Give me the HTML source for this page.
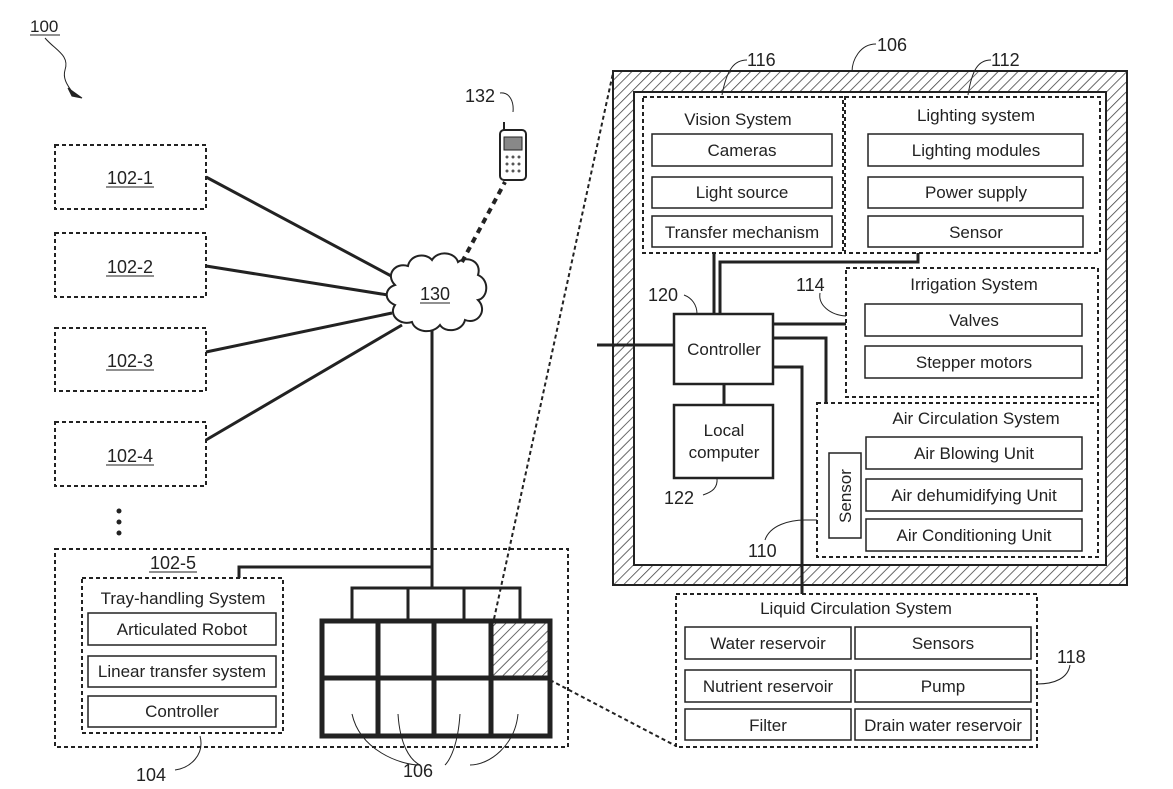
<!DOCTYPE html>
<html><head><meta charset="utf-8"><style>
html,body{margin:0;padding:0;background:#fff;}
svg{display:block;}
text{font-family:"Liberation Sans",sans-serif;fill:#222;}
</style></head><body>
<svg width="1173" height="789" viewBox="0 0 1173 789" xmlns="http://www.w3.org/2000/svg">
<defs>
<pattern id="h" patternUnits="userSpaceOnUse" width="7" height="7" patternTransform="rotate(45)">
<rect width="7" height="7" fill="#fff"/><line x1="0" y1="0" x2="0" y2="7" stroke="#444" stroke-width="1.6"/>
</pattern>
</defs>
<g fill="none" stroke="#222">
<text x="30" y="32" font-size="17" stroke="none">100</text>
<line x1="30" y1="35" x2="60" y2="35" stroke-width="1"/>
<path d="M45 38 C55 50 70 55 65 70 C62 80 70 88 72 92" stroke-width="1"/>
<path d="M68 88 L82 98 L72 96 Z" fill="#222"/>

<g stroke-width="2" stroke-dasharray="4,3">
<rect x="55" y="145" width="151" height="64"/>
<rect x="55" y="233" width="151" height="64"/>
<rect x="55" y="328" width="151" height="63"/>
<rect x="55" y="422" width="151" height="64"/>
<rect x="55" y="549" width="513" height="198"/>
<rect x="82" y="578" width="201" height="155"/>
</g>
<g font-size="18" stroke="none" text-anchor="middle">
<text x="130" y="184">102-1</text><text x="130" y="273">102-2</text>
<text x="130" y="367">102-3</text><text x="130" y="462">102-4</text>
<text x="173" y="569">102-5</text>
</g>
<g stroke-width="1"><line x1="106" y1="187" x2="154" y2="187"/><line x1="106" y1="276" x2="154" y2="276"/><line x1="106" y1="370" x2="154" y2="370"/><line x1="106" y1="465" x2="154" y2="465"/><line x1="149" y1="572" x2="197" y2="572"/></g>
<g fill="#222" stroke="none"><circle cx="119" cy="511" r="2.5"/><circle cx="119" cy="522" r="2.5"/><circle cx="119" cy="533" r="2.5"/></g>

<g stroke-width="3">
<line x1="206" y1="177" x2="395" y2="278"/>
<line x1="206" y1="266" x2="388" y2="295"/>
<line x1="206" y1="352" x2="392" y2="313"/>
<line x1="206" y1="440" x2="402" y2="325"/>
<line x1="432" y1="328" x2="432" y2="588"/>
<polyline points="432,567 239,567 239,578"/>
<polyline points="352,619 352,588 520,588 520,619"/>
<line x1="408" y1="588" x2="408" y2="619"/><line x1="464" y1="588" x2="464" y2="619"/>
</g>
<path d="M395 285 C385 275 395 262 408 266 C410 255 425 252 432 260 C438 250 455 252 458 262 C468 255 482 262 478 275 C490 280 488 298 478 300 C488 310 478 325 465 320 C462 332 445 333 440 325 C432 335 415 332 412 322 C400 326 388 315 395 305 C383 300 385 288 395 285 Z" fill="#fff" stroke-width="2"/>
<text x="435" y="300" font-size="18" stroke="none" text-anchor="middle">130</text>
<line x1="420" y1="303" x2="450" y2="303" stroke-width="1"/>
<line x1="462" y1="262" x2="505" y2="182" stroke-width="4" stroke-dasharray="6,5"/>
<rect x="500" y="130" width="26" height="50" rx="4" stroke-width="2"/>
<rect x="504" y="137" width="18" height="13" fill="#888" stroke-width="1"/>
<g fill="#555" stroke="none"><circle cx="507" cy="157" r="1.5"/><circle cx="513" cy="157" r="1.5"/><circle cx="519" cy="157" r="1.5"/><circle cx="507" cy="164" r="1.5"/><circle cx="513" cy="164" r="1.5"/><circle cx="519" cy="164" r="1.5"/><circle cx="507" cy="171" r="1.5"/><circle cx="513" cy="171" r="1.5"/><circle cx="519" cy="171" r="1.5"/></g>
<line x1="504" y1="130" x2="504" y2="122" stroke-width="2"/>
<text x="465" y="102" font-size="18" stroke="none">132</text>
<path d="M500 93 C510 92 514 102 513 112" stroke-width="1"/>

<text x="183" y="604" font-size="17" stroke="none" text-anchor="middle">Tray-handling System</text>
<g stroke-width="1.5"><rect x="88" y="613" width="188" height="32"/><rect x="88" y="656" width="188" height="31"/><rect x="88" y="696" width="188" height="31"/></g>
<g font-size="17" stroke="none" text-anchor="middle"><text x="182" y="635">Articulated Robot</text><text x="182" y="677">Linear transfer system</text><text x="182" y="717">Controller</text></g>
<path d="M200 736 C205 755 190 768 175 770" stroke-width="1"/>
<text x="136" y="781" font-size="18" stroke="none">104</text>

<rect x="492" y="621" width="58" height="56" fill="url(#h)" stroke="none"/>
<g stroke-width="5">
<rect x="322" y="621" width="228" height="115"/>
<line x1="378" y1="621" x2="378" y2="736"/><line x1="434" y1="621" x2="434" y2="736"/><line x1="491" y1="621" x2="491" y2="736"/>
<line x1="322" y1="678" x2="550" y2="678"/>
</g>
<g stroke-width="1"><path d="M352 714 C360 750 400 765 420 765"/><path d="M398 714 C400 745 410 760 420 765"/><path d="M460 714 C458 745 450 760 445 765"/><path d="M518 714 C515 745 490 765 470 765"/></g>
<text x="403" y="777" font-size="18" stroke="none">106</text>

<g stroke-width="2" stroke-dasharray="4,3"><line x1="494" y1="619" x2="613" y2="73"/><line x1="550" y1="680" x2="676" y2="746"/></g>

<rect x="613" y="71" width="514" height="514" fill="url(#h)" stroke-width="2"/>
<rect x="634" y="92" width="472" height="473" fill="#fff" stroke-width="2"/>

<g stroke-width="2" stroke-dasharray="4,3">
<rect x="643" y="97" width="200" height="156"/>
<rect x="845" y="97" width="255" height="156"/>
<rect x="846" y="268" width="252" height="129"/>
<rect x="817" y="403" width="281" height="154"/>
<rect x="676" y="594" width="361" height="153"/>
</g>
<g stroke-width="1.5">
<rect x="652" y="134" width="180" height="32"/><rect x="652" y="177" width="180" height="31"/><rect x="652" y="216" width="180" height="31"/>
<rect x="868" y="134" width="215" height="32"/><rect x="868" y="177" width="215" height="31"/><rect x="868" y="216" width="215" height="31"/>
<rect x="865" y="304" width="217" height="32"/><rect x="865" y="346" width="217" height="32"/>
<rect x="866" y="437" width="216" height="32"/><rect x="866" y="479" width="216" height="32"/><rect x="866" y="519" width="216" height="32"/>
<rect x="829" y="453" width="32" height="85"/>
<rect x="685" y="627" width="166" height="32"/><rect x="685" y="670" width="166" height="32"/><rect x="685" y="709" width="166" height="31"/>
<rect x="855" y="627" width="176" height="32"/><rect x="855" y="670" width="176" height="32"/><rect x="855" y="709" width="176" height="31"/>
</g>
<g stroke-width="2.5"><rect x="674" y="314" width="99" height="70"/><rect x="674" y="405" width="99" height="73"/></g>
<g stroke-width="3">
<line x1="714" y1="253" x2="714" y2="314"/>
<polyline points="720,314 720,262 918,262 918,253"/>
<line x1="773" y1="324" x2="846" y2="324"/>
<polyline points="773,338 826,338 826,403"/>
<polyline points="773,367 802,367 802,594"/>
<line x1="597" y1="345" x2="674" y2="345"/>
<line x1="724" y1="384" x2="724" y2="405"/>
</g>
<g font-size="17" stroke="none" text-anchor="middle">
<text x="738" y="125">Vision System</text><text x="976" y="121">Lighting system</text>
<text x="742" y="156">Cameras</text><text x="742" y="198">Light source</text><text x="742" y="238">Transfer mechanism</text>
<text x="976" y="156">Lighting modules</text><text x="976" y="198">Power supply</text><text x="976" y="238">Sensor</text>
<text x="974" y="290">Irrigation System</text>
<text x="974" y="326">Valves</text><text x="974" y="368">Stepper motors</text>
<text x="976" y="424">Air Circulation System</text>
<text x="974" y="459">Air Blowing Unit</text><text x="974" y="501">Air dehumidifying Unit</text><text x="974" y="541">Air Conditioning Unit</text>
<text x="724" y="355">Controller</text>
<text x="724" y="436">Local</text><text x="724" y="458">computer</text>
<text x="856" y="614">Liquid Circulation System</text>
<text x="768" y="649">Water reservoir</text><text x="943" y="649">Sensors</text>
<text x="768" y="692">Nutrient reservoir</text><text x="943" y="692">Pump</text>
<text x="768" y="731">Filter</text><text x="943" y="731">Drain water reservoir</text>
</g>
<text x="851" y="496" font-size="17" stroke="none" text-anchor="middle" transform="rotate(-90 851 496)">Sensor</text>
<g font-size="18" stroke="none">
<text x="747" y="66">116</text><text x="877" y="51">106</text><text x="991" y="66">112</text>
<text x="648" y="301">120</text><text x="796" y="291">114</text><text x="664" y="504">122</text>
<text x="748" y="557">110</text><text x="1057" y="663">118</text>
</g>
<g stroke-width="1">
<path d="M747 60 C735 60 727 68 722 95"/>
<path d="M876 44 C860 44 852 60 852 72"/>
<path d="M991 60 C978 60 972 70 968 95"/>
<path d="M684 295 C692 298 697 305 697 314"/>
<path d="M820 293 C818 305 830 315 846 316"/>
<path d="M703 495 C712 492 718 488 717 478"/>
<path d="M765 540 C770 525 790 520 805 520 L817 520"/>
<path d="M1070 665 C1068 678 1055 684 1037 684"/>
</g>
</g>
</svg>
</body></html>
